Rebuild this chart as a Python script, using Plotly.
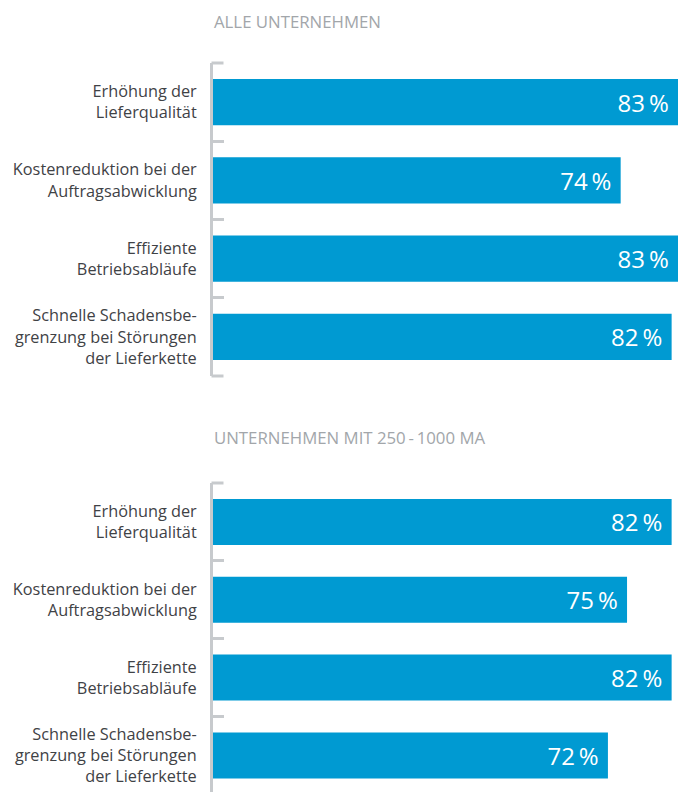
import plotly.graph_objects as go

# ---- data ----
categories = [
    "Erhöhung der<br>Lieferqualität",
    "Kostenreduktion bei der<br>Auftragsabwicklung",
    "Effiziente<br>Betriebsabläufe",
    "Schnelle Schadensbe-<br>grenzung bei Störungen<br>der Lieferkette",
]
panel_titles = ["ALLE UNTERNEHMEN", "UNTERNEHMEN MIT 250\u2009-\u20091000 MA"]
values_alle = [83, 74, 83, 82]
values_250_1000 = [82, 75, 82, 72]

BAR = "#009ad2"
AXIS = "#c7cacd"
LABEL = "#3f4246"
TITLE = "#a2a6aa"
FONT = "Open Sans"

W, H = 678, 792

def py(p):
    return 1 - p / H

fig = go.Figure()
for vals, xa, ya in [(values_alle, "x", "y"), (values_250_1000, "x2", "y2")]:
    fig.add_trace(go.Bar(
        x=vals, y=categories, orientation="h",
        xaxis=xa, yaxis=ya,
        marker=dict(color=BAR, line=dict(width=0)),
        text=[f"{v}\u2009%\u00a0" for v in vals],
        textposition="inside", insidetextanchor="end", textangle=0,
        insidetextfont=dict(color="white", size=24, family=FONT),
        hoverinfo="skip", showlegend=False,
    ))

yax_common = dict(
    type="category", showline=True, linecolor=AXIS, linewidth=3,
    ticks="inside", tickson="boundaries", ticklen=11, tickwidth=3, tickcolor=AXIS,
    showgrid=False, zeroline=False, ticklabelstandoff=10,
    tickfont=dict(family=FONT, size=16.3, color=LABEL),
)
xax_common = dict(visible=False, range=[10, 83], fixedrange=True)

# bracket end caps (axis decoration, in axis-domain coordinates)
def cap(xref, yref, ydom):
    return dict(type="line", xref=xref, yref=yref, xsizemode="pixel", xanchor=0,
                x0=-1.5, x1=10.5, y0=ydom, y1=ydom,
                line=dict(color=AXIS, width=3), layer="above")

fig.update_layout(
    width=W, height=H,
    margin=dict(l=213, r=0, t=0, b=0),
    paper_bgcolor="white", plot_bgcolor="white",
    bargap=0.408,
    font=dict(family=FONT),
    xaxis=dict(anchor="y", domain=[0, 1], **xax_common),
    xaxis2=dict(anchor="y2", domain=[0, 1], **xax_common),
    yaxis=dict(anchor="x", domain=[py(376), py(63)], range=[3.5, -0.5], **yax_common),
    yaxis2=dict(anchor="x2", domain=[0, py(483)], range=[3.47, -0.5], **yax_common),
    shapes=[
        cap("x domain", "y domain", 1),
        cap("x domain", "y domain", 0),
        cap("x2 domain", "y2 domain", 1),
    ],
    annotations=[
        dict(text=panel_titles[0], x=0, y=py(21.5), xref="paper", yref="paper",
             xanchor="left", yanchor="middle", xshift=-1, showarrow=False,
             font=dict(family=FONT, size=16.8, color=TITLE)),
        dict(text=panel_titles[1], x=0, y=py(437), xref="paper", yref="paper",
             xanchor="left", yanchor="middle", xshift=-1, showarrow=False,
             font=dict(family=FONT, size=16.8, color=TITLE)),
    ],
)

fig.write_html("out.html")
